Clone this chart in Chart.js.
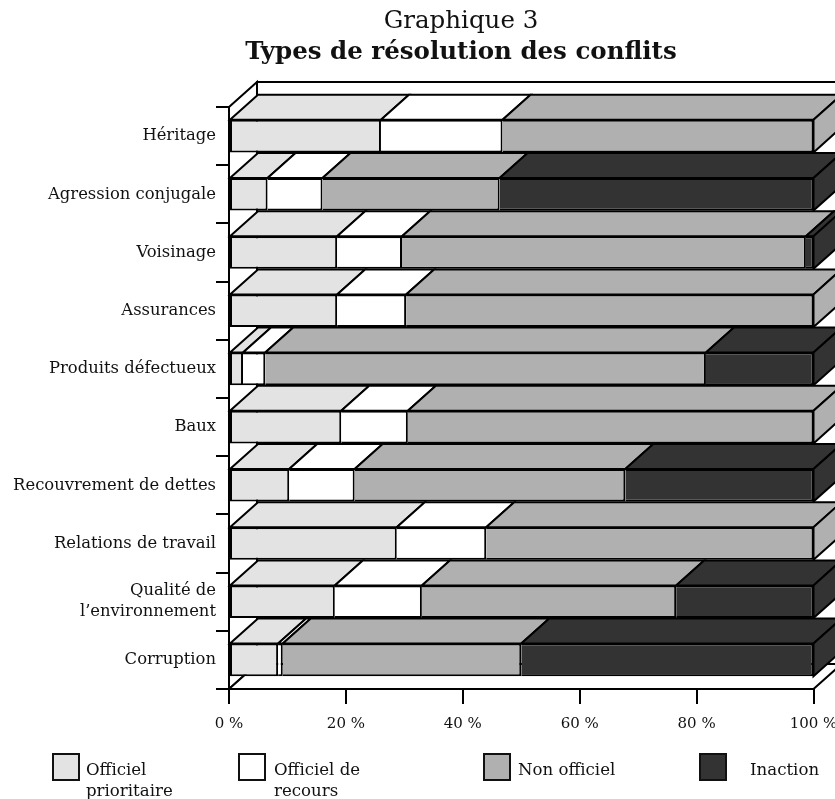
<!DOCTYPE html>
<html lang="fr">
<head>
<meta charset="utf-8">
<title>Types de résolution des conflits</title>
<script src="https://cdn.jsdelivr.net/npm/chart.js@4"></script>
<style>
    html, body { margin: 0; padding: 0; background: #fff; overflow: hidden; }
    body { position: relative; width: 835px; height: 799px; font-family: "DejaVu Serif", serif; color: #111; }
    #chart { position: absolute; left: 0; top: 0; }
    .title { position: absolute; left: 61px; width: 800px; text-align: center; font-size: 24.5px; line-height: 30px; }
    .title.main { top: 5px; }
    .title.sub { top: 36px; font-weight: bold; }
    .swatch { position: absolute; top: 753px; width: 24px; height: 24px; border: 2px solid #111; }
    .leg { position: absolute; top: 759px; font-size: 16.6px; line-height: 21px; white-space: pre; }
</style>
</head>
<body>
<canvas id="chart" width="835" height="799"></canvas>
<div class="title main">Graphique 3</div>
<div class="title sub">Types de résolution des conflits</div>
<div id="legend"></div>
<script>
const categories = ['Héritage', 'Agression conjugale', 'Voisinage', 'Assurances', 'Produits défectueux',
    'Baux', 'Recouvrement de dettes', 'Relations de travail', ['Qualité de', 'l’environnement'], 'Corruption'];

const officielPrioritaire = [26.0, 6.6, 18.5, 18.5, 2.4, 19.2, 10.3, 28.7, 18.1, 8.4];
const officielRecours = [20.8, 9.4, 11.1, 11.8, 3.8, 11.4, 11.2, 15.3, 14.9, 0.8];
const nonOfficiel = [53.2, 30.3, 69.1, 69.7, 75.4, 69.4, 46.3, 56.0, 43.5, 40.8];
const inaction = [0, 53.7, 1.3, 0, 18.4, 0, 32.2, 0, 23.5, 50.0];

const seriesNames = ['Officiel\nprioritaire', 'Officiel de\nrecours', 'Non officiel', 'Inaction'];
const seriesColors = ['#e3e3e3', '#ffffff', '#b0b0b0', '#333333'];
const xTicks = [0, 20, 40, 60, 80, 100];

// légende en HTML (positions tirées de l'image)
const swatchLeft = [52, 238, 483, 699];
const labelLeft = [86, 274, 518, 750];
const legendEl = document.getElementById('legend');
seriesNames.forEach((name, i) => {
    const sw = document.createElement('div');
    sw.className = 'swatch';
    sw.style.left = swatchLeft[i] + 'px';
    sw.style.background = seriesColors[i];
    legendEl.appendChild(sw);
    const lab = document.createElement('div');
    lab.className = 'leg';
    lab.style.left = labelLeft[i] + 'px';
    lab.textContent = name;
    legendEl.appendChild(lab);
});

const DEPTH_X = 28;
const DEPTH_Y = 25;
const INK = '#000';

function poly(ctx, pts, fill) {
    ctx.beginPath();
    pts.forEach((p, i) => i ? ctx.lineTo(p[0], p[1]) : ctx.moveTo(p[0], p[1]));
    ctx.closePath();
    if (fill) { ctx.fillStyle = fill; ctx.fill(); }
    ctx.stroke();
}

// murs + faces du dessus / de droite; les faces avant sont les barres de Chart.js
const depthPlugin = {
    id: 'depth',
    beforeDatasetsDraw(chart) {
        const ctx = chart.ctx;
        const a = chart.chartArea;
        const dx = DEPTH_X, dy = DEPTH_Y;
        ctx.save();
        ctx.lineWidth = 2;
        ctx.strokeStyle = INK;
        ctx.lineJoin = 'miter';
        poly(ctx, [[a.left + dx, a.top - dy], [a.right + dx, a.top - dy], [a.right + dx, a.bottom - dy], [a.left + dx, a.bottom - dy]], '#fff');
        poly(ctx, [[a.left, a.top], [a.left + dx, a.top - dy], [a.left + dx, a.bottom - dy], [a.left, a.bottom]], '#fff');
        poly(ctx, [[a.left, a.bottom], [a.left + dx, a.bottom - dy], [a.right + dx, a.bottom - dy], [a.right, a.bottom]], '#fff');

        categories.forEach((_, i) => {
            let last = null;
            chart.data.datasets.forEach((ds, d) => {
                const el = chart.getDatasetMeta(d).data[i];
                if (ds.data[i] <= 0) return;
                const top = el.y - el.height / 2;
                const x0 = el.base, x1 = el.x;
                poly(ctx, [[x0, top], [x0 + dx, top - dy], [x1 + dx, top - dy], [x1, top]], seriesColors[d]);
                last = { el, color: seriesColors[d], top, x1 };
            });
            if (last) {
                const bot = last.top + last.el.height;
                poly(ctx, [[last.x1, last.top], [last.x1 + dx, last.top - dy], [last.x1 + dx, bot - dy], [last.x1, bot]], last.color);
            }
        });
        ctx.restore();
    }
};

const datasets = [officielPrioritaire, officielRecours, nonOfficiel, inaction].map((values, i) => ({
    label: seriesNames[i].replace('\n', ' '),
    data: values,
    backgroundColor: seriesColors[i],
    borderColor: INK,
    // un seul trait de 2px entre deux segments voisins
    borderWidth: { top: 2, bottom: 2, left: i === 0 ? 2 : 0, right: 2 },
    borderSkipped: false,
    barPercentage: 0.56,
    categoryPercentage: 1,
}));

new Chart(document.getElementById('chart').getContext('2d'), {
    type: 'bar',
    data: { labels: categories, datasets: datasets },
    plugins: [depthPlugin],
    options: {
        indexAxis: 'y',
        responsive: false,
        animation: false,
        layout: { padding: { top: 107, right: 21.5, left: 0, bottom: 0 } },
        plugins: { legend: { display: false }, title: { display: false }, tooltip: { enabled: false } },
        scales: {
            x: {
                stacked: true,
                min: 0,
                max: 100,
                afterBuildTicks(scale) { scale.ticks = xTicks.map(v => ({ value: v })); },
                afterFit(scale) { scale.height = 110; scale.paddingLeft = 0; scale.paddingRight = 0; },
                grid: { drawOnChartArea: false, color: INK, lineWidth: 2, tickLength: 15 },
                border: { color: INK, width: 2 },
                ticks: {
                    color: '#111',
                    padding: 11,
                    maxRotation: 0,
                    font: { family: '"DejaVu Serif", serif', size: 15 },
                    callback: v => v + ' %',
                },
            },
            y: {
                stacked: true,
                afterFit(scale) { scale.width = 229; },
                grid: { drawOnChartArea: false, color: INK, lineWidth: 2, tickLength: 13 },
                border: { color: INK, width: 2 },
                ticks: {
                    color: '#111',
                    padding: 0,
                    autoSkip: false,
                    font: { family: '"DejaVu Serif", serif', size: 16.4, lineHeight: 1.28 },
                },
            },
        },
    },
});
</script>
</body>
</html>
